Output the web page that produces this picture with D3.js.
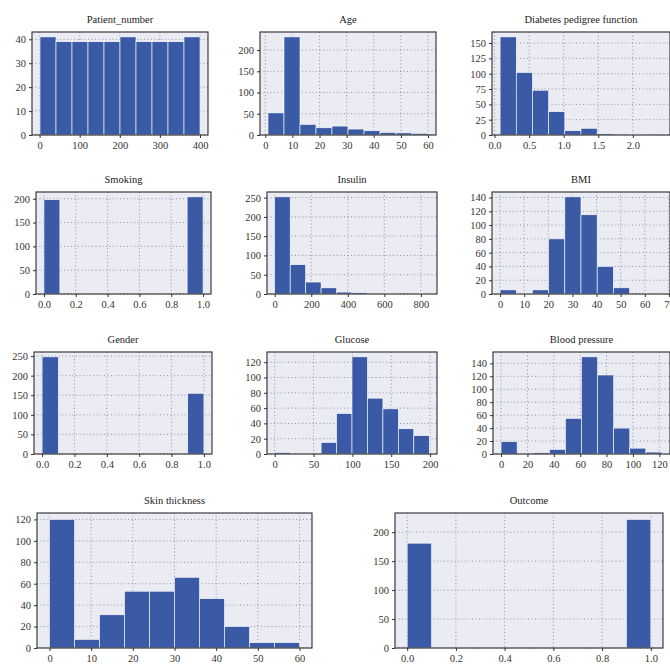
<!DOCTYPE html>
<html>
<head>
<meta charset="utf-8">
<script src="https://cdn.jsdelivr.net/npm/d3@7"></script>
<style>
  body { margin: 0; background: #fff; }
</style>
</head>
<body>
<svg id="mainSVG" width="670" height="669"></svg>
<script>
var $svg = d3.select("#mainSVG");
var fontFam = "'Liberation Serif', 'DejaVu Serif', serif";

// Histogram data (10 bins each)
var titles = ['Patient_number','Age','Diabetes pedigree function','Smoking','Insulin','BMI',
              'Gender','Glucose','Blood pressure','Skin thickness','Outcome'];

var patientCounts = [41,39,39,39,39,41,39,39,39,41];
var ageCounts     = [52,231,25,17,21,14,10,6,5,4];
var dpfCounts     = [160,102,73,38,7,11,2,1.5,1,1.5];
var smokingCounts = [198,0,0,0,0,0,0,0,0,204];
var insulinCounts = [252,76,31,16,5,3.5,2,1,0,1];
var bmiCounts     = [6,0.5,6,80,141,115,40,9,0,1];
var genderCounts  = [248,0,0,0,0,0,0,0,0,155];
var glucoseCounts = [2,0,0,15,53,127,73,59,33,24];
var bpCounts      = [19,0,2,7,55,150,122,40,9,3];
var skinCounts    = [120,8,31,53,53,66,46,20,5,5];
var outcomeCounts = [181,0,0,0,0,0,0,0,0,222];

// data ranges [min, max] for each histogram
var ranges = [[1,400],[1,60],[0.08,2.42],[0,1],[0,846],[0,67.1],[0,1],[0,199],[0,122],[0,60],[0,1]];

var unitTicks = [0,0.2,0.4,0.6,0.8,1.0];
var xTicks = [[0,100,200,300,400],[0,10,20,30,40,50,60],[0,0.5,1,1.5,2],unitTicks,
              [0,200,400,600,800],[0,10,20,30,40,50,60,70],unitTicks,[0,50,100,150,200],
              [0,20,40,60,80,100,120],[0,10,20,30,40,50,60],unitTicks];
var yTicks = [[0,10,20,30,40],[0,50,100,150,200],[0,25,50,75,100,125,150],[0,50,100,150,200],
              [0,50,100,150,200,250],[0,20,40,60,80,100,120,140],[0,50,100,150,200,250],
              [0,20,40,60,80,100,120],[0,20,40,60,80,100,120,140],[0,20,40,60,80,100,120],
              [0,50,100,150,200]];
var xFormats = ['d','d','.1f','.1f','d','d','.1f','d','d','d','.1f'];

var allCounts = [patientCounts,ageCounts,dpfCounts,smokingCounts,insulinCounts,bmiCounts,
                 genderCounts,glucoseCounts,bpCounts,skinCounts,outcomeCounts];

// panel boxes [x0, y0, x1, y1]
var boxes = [[32,32,208,135],[260,32,436,135],[492,32,670,135],
             [36,192,211,294],[267,192,437,294],[492,192,670,294],
             [34,352,212,454],[267,352,437,454],[493,352,670,454],
             [37,513,312,648],[395,513,663,648]];

var barColor = '#3a5aa6';
var bgColor = '#ebebf4';

boxes.forEach((b,i)=>drawPanel(i,b));

function drawPanel(i,b){
    let [x0,y0,x1,y1] = b;
    let counts = allCounts[i];
    let [lo,hi] = ranges[i];
    let pad = (hi-lo)*0.05;
    let bw = (hi-lo)/counts.length;

    let x = d3.scaleLinear().domain([lo-pad, hi+pad]).range([x0,x1]);
    let y = d3.scaleLinear().domain([0, d3.max(counts)*1.05]).range([y1,y0]);

    let $g = $svg.append('g').attr('class','panel');

    $g.append('rect')
        .attr('x',x0).attr('y',y0)
        .attr('width',x1-x0).attr('height',y1-y0)
        .attr('fill',bgColor);

    let xt = xTicks[i].filter(t=>t>=x.domain()[0] && t<=x.domain()[1]);

    // dotted grid
    $g.append('g').selectAll('line').data(xt).enter().append('line')
        .attr('x1',d=>x(d)).attr('x2',d=>x(d))
        .attr('y1',y0).attr('y2',y1)
        .attr('stroke','#8a8a96').attr('stroke-width',0.9)
        .attr('stroke-dasharray','1,2.5');
    $g.append('g').selectAll('line').data(yTicks[i]).enter().append('line')
        .attr('x1',x0).attr('x2',x1)
        .attr('y1',d=>y(d)).attr('y2',d=>y(d))
        .attr('stroke','#8a8a96').attr('stroke-width',0.9)
        .attr('stroke-dasharray','1,2.5');

    // bars
    $g.append('g').selectAll('rect')
        .data(counts.map((c,k)=>({c:c,k:k})).filter(d=>d.c>0))
        .enter().append('rect')
        .attr('x',d=>x(lo+d.k*bw))
        .attr('width',d=>x(lo+(d.k+1)*bw)-x(lo+d.k*bw))
        .attr('y',d=>y(d.c))
        .attr('height',d=>y(0)-y(d.c))
        .attr('fill',barColor)
        .attr('stroke','#ffffff').attr('stroke-width',0.6);

    // frame
    $g.append('rect')
        .attr('x',x0).attr('y',y0)
        .attr('width',x1-x0).attr('height',y1-y0)
        .attr('fill','none').attr('stroke','#3c3c3c').attr('stroke-width',1.2);

    // axes
    let $xa = $g.append('g').attr('transform',`translate(0 ${y1})`)
        .call(d3.axisBottom(x).tickValues(xt).tickFormat(d3.format(xFormats[i])).tickSize(3).tickPadding(4));
    let $ya = $g.append('g').attr('transform',`translate(${x0} 0)`)
        .call(d3.axisLeft(y).tickValues(yTicks[i]).tickFormat(d3.format('d')).tickSize(3).tickPadding(3));
    [$xa,$ya].forEach($a=>{
        $a.attr('font-family',fontFam).attr('font-size',10.5);
        $a.select('.domain').remove();
        $a.selectAll('line').attr('stroke','#333');
        $a.selectAll('text').attr('fill','#333');
    });

    // title
    $g.append('text')
        .attr('x',(x0+x1)/2).attr('y',y0-9)
        .attr('text-anchor','middle')
        .attr('font-family',fontFam)
        .attr('font-size',10.5)
        .attr('fill','#222')
        .text(titles[i]);
}
</script>
</body>
</html>
